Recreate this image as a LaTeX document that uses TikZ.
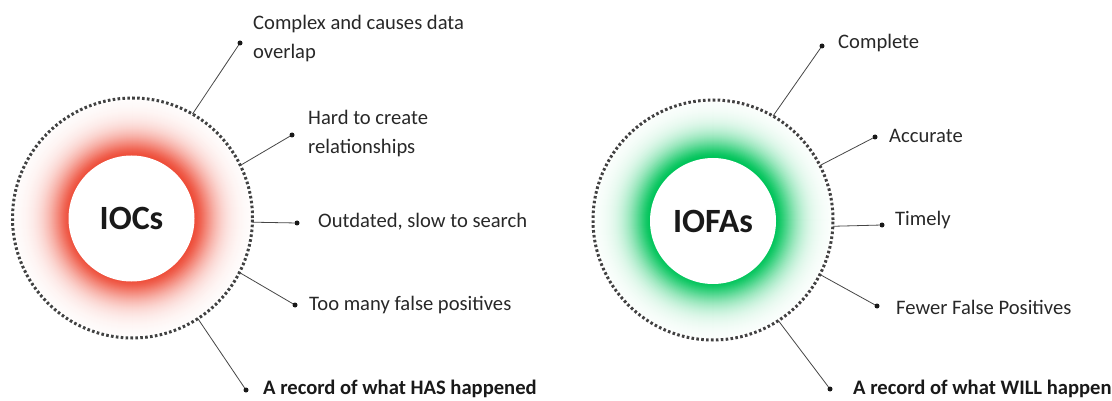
\documentclass[tikz,border=0pt]{standalone}
\usepackage{fontspec}
\setmainfont{Carlito}
\definecolor{glowred}{RGB}{238,78,58}
\definecolor{glowgreen}{RGB}{0,196,90}
\definecolor{ringgrey}{RGB}{65,65,65}
\definecolor{txt}{RGB}{40,40,40}
\definecolor{linegrey}{RGB}{70,70,70}
\tikzset{
  ring/.style={circle, draw=ringgrey, line width=3pt, dash pattern=on 2.6pt off 2.3pt, minimum size=240pt, inner sep=0pt, outer sep=0pt},
  core/.style={circle, fill=white, minimum size=126pt, inner sep=0pt, font=\fontsize{34}{40}\selectfont\bfseries, text=black!90},
  pin/.style={circle, fill=black!90, minimum size=5pt, inner sep=0pt},
  lbl/.style={anchor=west, inner sep=0pt, text=txt, font=\fontsize{20.6}{29}\selectfont, align=left},
  blbl/.style={lbl, font=\fontsize{20.6}{29}\selectfont\bfseries, text=black!90},
  conn/.style={draw=linegrey, line width=0.8pt}
}
\begin{document}
\begin{tikzpicture}[x=1pt,y=-1pt]
\useasboundingbox (0,0) rectangle (1112,401);
% glows
\foreach \r in {118,117,...,63}{
  \pgfmathsetmacro{\p}{100*exp(-((\r-63)/22)^1.5)}
  \fill[glowred!\p!white] (132.5,218) circle (\r);
  \fill[glowgreen!\p!white] (713,220) circle (\r);
}
% left circle
\node[ring] (L) at (132.5,218) {};
\node[core] (Lc) at (131.5,218.5) {IOCs};
% right circle
\node[ring] (R) at (713,220) {};
\node[core] (Rc) at (713,221) {IOFAs};
% left pins
\node[pin] (l1) at (240,43) {};
\node[pin] (l2) at (292,135) {};
\node[pin] (l3) at (297,223) {};
\node[pin] (l4) at (295,305) {};
\node[pin] (l5) at (246,390) {};
\draw[conn] (L.60) -- (l1);
\draw[conn] (L.26) -- (l2);
\draw[conn] (L.-2) -- (l3);
\draw[conn] (L.-27) -- (l4);
\draw[conn] (L.-57) -- (l5);
\node[lbl] (t1) at (253,39) {Complex and causes data\\overlap};
\node[lbl] (t2) at (308,133.5) {Hard to create\\relationships};
\node[lbl] (t3) at (318,222) {Outdated, slow to search};
\node[lbl] (t4) at (309,305) {Too many false positives};
\node[blbl] (t5) at (263,389) {A record of what HAS happened};
% right pins
\node[pin] (r1) at (822,46) {};
\node[pin] (r2) at (875,137) {};
\node[pin] (r3) at (882,225) {};
\node[pin] (r4) at (877,306) {};
\node[pin] (r5) at (830,389) {};
\draw[conn] (R.60) -- (r1);
\draw[conn] (R.27) -- (r2);
\draw[conn] (R.-3) -- (r3);
\draw[conn] (R.-27) -- (r4);
\draw[conn] (R.-57) -- (r5);
\node[lbl] (s1) at (838,43) {Complete};
\node[lbl] (s2) at (889,136) {Accurate};
\node[lbl] (s3) at (895,220) {Timely};
\node[lbl] (s4) at (896,307) {Fewer False Positives};
\node[blbl] (s5) at (853,389) {A record of what WILL happen};
\end{tikzpicture}
\end{document}
